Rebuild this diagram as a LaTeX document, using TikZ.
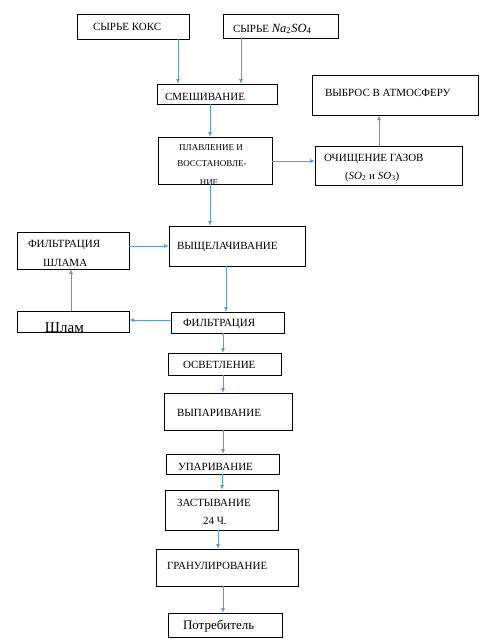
\documentclass[tikz,border=0pt]{standalone}
\usepackage{fontspec}
\setmainfont{Liberation Serif}
\usetikzlibrary{arrows.meta}
\definecolor{arrblue}{HTML}{5B9BD5}
\tikzset{
  box/.style={draw=black, line width=0.9pt, inner sep=0pt, outer sep=0pt, fill=none},
  txt/.style={anchor=base west, inner sep=0pt, outer sep=0pt, font=\fontsize{11}{13}\selectfont},
  smalltxt/.style={anchor=base, inner sep=0pt, outer sep=0pt, font=\fontsize{9}{11}\selectfont},
  arr/.style={draw=arrblue, line width=0.85pt, -{Latex[length=5pt,width=4pt]}}
}
\begin{document}
\begin{tikzpicture}[x=1pt,y=-1pt]
\useasboundingbox (0,0) rectangle (491,641);
% boxes
\node[box, minimum width=112pt, minimum height=25pt] (kok) at (133,26.5) {};
\node[box, minimum width=115pt, minimum height=24pt] (na) at (280.5,26) {};
\node[box, minimum width=120pt, minimum height=20pt] (mix) at (217,94) {};
\node[box, minimum width=166pt, minimum height=40pt] (atm) at (395,95) {};
\node[box, minimum width=114pt, minimum height=47pt] (melt) at (215,160.5) {};
\node[box, minimum width=147pt, minimum height=39pt] (gas) at (388.5,165.5) {};
\node[box, minimum width=136pt, minimum height=40pt] (leach) at (237,246) {};
\node[box, minimum width=112pt, minimum height=37pt] (filtsh) at (73,250.5) {};
\node[box, minimum width=112pt, minimum height=21pt] (shlam) at (73,321.5) {};
\node[box, minimum width=113pt, minimum height=21pt] (filt) at (227.5,322.5) {};
\node[box, minimum width=113pt, minimum height=22pt] (clar) at (224.5,364) {};
\node[box, minimum width=128pt, minimum height=37pt] (evap) at (228,411.5) {};
\node[box, minimum width=113pt, minimum height=20pt] (upar) at (222.5,464) {};
\node[box, minimum width=113pt, minimum height=40pt] (zast) at (221.5,510) {};
\node[box, minimum width=142pt, minimum height=37pt] (gran) at (227,567.5) {};
\node[box, minimum width=114pt, minimum height=24pt] (cons) at (225,625) {};
% texts
\node[txt] (tkok) at (93,30) {СЫРЬЕ КОКС};
\node[txt] (tna) at (233,32) {СЫРЬЕ {\fontsize{12.5}{14}\selectfont\textit{Na}\textsubscript{2}\textit{SO}\textsubscript{4}}};
\node[txt] (tmix) at (165,100) {СМЕШИВАНИЕ};
\node[txt] (tatm) at (325,96) {ВЫБРОС В АТМОСФЕРУ};
\node[smalltxt] (tmelt1) at (211,150) {ПЛАВЛЕНИЕ И};
\node[smalltxt] (tmelt2) at (212,166) {ВОССТАНОВЛЕ-};
\begin{scope}
\clip (158.5,137.5) rectangle (271.5,183.6);
\node[smalltxt] (tmelt3) at (209,185) {НИЕ};
\end{scope}
\node[txt] (tgas1) at (324,161) {ОЧИЩЕНИЕ ГАЗОВ};
\node[txt] (tgas2) at (345,179) {(\textit{SO}\textsubscript{2} и \textit{SO}\textsubscript{3})};
\node[txt] (tleach) at (177,249) {ВЫЩЕЛАЧИВАНИЕ};
\node[txt] (tfiltsh1) at (28,247) {ФИЛЬТРАЦИЯ};
\node[txt] (tfiltsh2) at (43,266) {ШЛАМА};
\begin{scope}
\clip (17.5,311.5) rectangle (128.5,331.4);
\node[txt, font=\fontsize{15}{17}\selectfont] (tshlam) at (45,332.5) {Шлам};
\end{scope}
\node[txt] (tfilt) at (183,326) {ФИЛЬТРАЦИЯ};
\node[txt] (tclar) at (183,368) {ОСВЕТЛЕНИЕ};
\node[txt] (tevap) at (177,416) {ВЫПАРИВАНИЕ};
\node[txt] (tupar) at (178,470) {УПАРИВАНИЕ};
\node[txt] (tzast1) at (177,506) {ЗАСТЫВАНИЕ};
\node[txt] (tzast2) at (203,524) {24 Ч.};
\node[txt] (tgran) at (167,569) {ГРАНУЛИРОВАНИЕ};
\node[txt, font=\fontsize{13}{15}\selectfont] (tcons) at (183,629) {Потребитель};
% guide coordinates
\coordinate (xa) at (178,0);
\coordinate (xb) at (241,0);
\coordinate (xc) at (210,0);
\coordinate (xd) at (379,0);
\coordinate (xe) at (226,0);
\coordinate (xf) at (71,0);
\coordinate (xg) at (223,0);
\coordinate (xh) at (218,0);
\coordinate (xi) at (222,0);
\coordinate (ya) at (0,161);
\coordinate (yb) at (0,246);
\coordinate (yc) at (0,320);
% connectors
\draw[arr] (kok.south -| xa) -- (mix.north -| xa);
\draw[arr] (na.south -| xb) -- (mix.north -| xb);
\draw[arr] (mix.south -| xc) -- (melt.north -| xc);
\draw[arr] (melt.east |- ya) -- (gas.west |- ya);
\draw[arr] (gas.north -| xd) -- (atm.south -| xd);
\draw[arr] (melt.south -| xc) -- (leach.north -| xc);
\draw[arr] (filtsh.east |- yb) -- (leach.west |- yb);
\draw[arr] (leach.south -| xe) -- (filt.north -| xe);
\draw[arr] (filt.west |- yc) -- (shlam.east |- yc);
\draw[arr] (shlam.north -| xf) -- (filtsh.south -| xf);
\draw[arr] (filt.south -| xg) -- (clar.north -| xg);
\draw[arr] (clar.south -| xg) -- (evap.north -| xg);
\draw[arr] (evap.south -| xg) -- (upar.north -| xg);
\draw[arr] (upar.south -| xi) -- (zast.north -| xi);
\draw[arr] (zast.south -| xh) -- (gran.north -| xh);
\draw[arr] (gran.south -| xg) -- (cons.north -| xg);
\end{tikzpicture}
\end{document}
